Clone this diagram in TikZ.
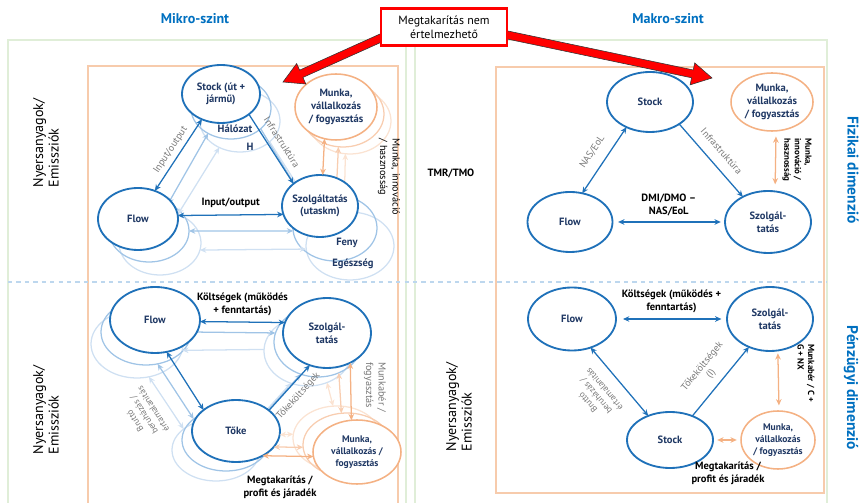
\documentclass[tikz,border=0pt]{standalone}
\usepackage{fontspec}
\setmainfont{PT Sans}
\usetikzlibrary{shapes.geometric,arrows.meta,calc}

\definecolor{bleu}{RGB}{31,113,185}
\definecolor{bleua}{RGB}{160,196,230}
\definecolor{bleub}{RGB}{207,224,242}
\definecolor{marine}{RGB}{31,56,100}
\definecolor{orangem}{RGB}{244,177,131}
\definecolor{orangea}{RGB}{248,205,176}
\definecolor{orangeb}{RGB}{251,227,210}
\definecolor{cadreor}{RGB}{247,203,172}
\definecolor{cadrevert}{RGB}{224,238,216}
\definecolor{pointille}{RGB}{189,215,238}
\definecolor{titrebleu}{RGB}{0,112,192}
\definecolor{gris}{RGB}{120,120,120}

\newcommand\flecherouge[2]{%
  \coordinate (#1c) at ($(#2)!0.5cm!(#1)$);
  \filldraw[fill=red, draw=black!80, line width=0.4pt]
    ($(#1)!0.1cm!90:(#2)$) -- ($(#1c)!0.1cm!90:(#2)$) -- ($(#1c)!0.28cm!90:(#2)$)
    -- (#2) -- ($(#1c)!0.28cm!-90:(#2)$) -- ($(#1c)!0.1cm!-90:(#2)$)
    -- ($(#1)!0.1cm!-90:(#2)$) -- cycle;}

\begin{document}
\begin{tikzpicture}[x=0.025cm, y=-0.025cm]
\tikzset{taille/.style 2 args={minimum width=#1*0.025cm, minimum height=#2*0.025cm},
  ovale/.style={ellipse, draw=bleu, fill=white, line width=1.3pt, inner sep=0pt, outer sep=0pt},
  ovaleor/.style={ovale, draw=orangem, line width=1.1pt},
  ombrea/.style={ellipse, draw=bleua, line width=0.9pt, inner sep=0pt, outer sep=0pt},
  ombreb/.style={ombrea, draw=bleub},
  ombreora/.style={ombrea, draw=orangea},
  ombreorb/.style={ombrea, draw=orangeb},
  nom/.style={font=\fontsize{7.5}{9}\selectfont\bfseries, text=marine, align=center, inner sep=0pt},
  nomp/.style={nom, font=\fontsize{6.8}{8.5}\selectfont\bfseries},
  etiq/.style={font=\fontsize{7}{8}\selectfont, text=gris, inner sep=1pt, align=center},
  noir/.style={font=\fontsize{7.5}{9}\selectfont\bfseries, text=black, align=center, inner sep=1pt},
  noirp/.style={font=\fontsize{6.3}{7.5}\selectfont\bfseries, text=black, align=left, inner sep=0pt},
  titre/.style={font=\fontsize{10}{12}\selectfont\bfseries, text=titrebleu},
  cote/.style={font=\fontsize{10}{11}\selectfont, align=left, rotate=90},
  fl/.style={line width=0.9pt, -{Stealth[length=4.5pt,width=4pt]}},
  dfl/.style={line width=0.9pt, {Stealth[length=4.5pt,width=4pt]}-{Stealth[length=4.5pt,width=4pt]}}}
\useasboundingbox (0,0) rectangle (861,503);

\draw[cadrevert, line width=1pt] (8,503) -- (8,40) -- (406,40) -- (406,503);
\draw[cadrevert, line width=1pt] (415,503) -- (415,40) -- (827,40) -- (827,503);
\draw[cadreor, line width=1.3pt] (88,503) -- (88,66) -- (398,66) -- (398,503);
\draw[cadreor, line width=1.3pt] (496,67) rectangle (824,493);
\draw[pointille, line width=0.9pt, dashed] (8,282) -- (827,282);

\node[titre] (mikro) at (195,19) {Mikro-szint};
\node[titre] (makro) at (668,19) {Makro-szint};
\node[cote] (nyers1) at (46,143) {Nyersanyagok/\\Emissziók};
\node[cote] (nyers2) at (46,410) {Nyersanyagok/\\Emissziók};
\node[cote] (nyers3) at (459,407) {Nyersanyagok/\\Emissziók};
\node[noir] (tmr) at (451,173) {TMR/TMO};
\node[titre, rotate=-90, font=\fontsize{11}{12}\selectfont\bfseries] (fizikai) at (853,170) {Fizikai dimenzió};
\node[titre, rotate=-90, font=\fontsize{11}{12}\selectfont\bfseries] (penzugyi) at (851,388) {Pénzügyi dimenzió};

% mikro, fizikai
\node[ombreb, taille={80}{62}] (stockA-b) at (240,121) {};
\node[ombrea, taille={80}{62}] (stockA-a) at (231,108) {};
\node[ombreb, taille={82}{64}] (flowA-b) at (160,243) {};
\node[ombrea, taille={80}{62}] (flowA-a) at (149,231) {};
\node[ombreb, taille={88}{68}] (szolgA-b) at (350,246) {};
\node[ombrea, taille={84}{66}] (szolgA-a) at (335,228) {};
\node[ombreorb, taille={82}{66}] (munkaA-b) at (350,121) {};
\node[ombreora, taille={82}{66}] (munkaA-a) at (343,114) {};
\draw[dfl, bleua] (stockA-a.228) -- (flowA-a.55);
\draw[dfl, bleub] (stockA-b.232) -- (flowA-b.58);
\draw[fl, bleua] (stockA-a.325) -- (szolgA-a.140);
\draw[fl, bleub] (stockA-b.325) -- (szolgA-b.140);
\draw[dfl, bleua] (flowA-a.0) -- (szolgA-a.184);
\draw[dfl, bleub] (flowA-b.350) -- (szolgA-b.184);
\draw[fl, orangea] (szolgA-a.88) -- (munkaA-a.262);
\draw[fl, orangeb] (szolgA-b.100) -- (munkaA-b.262);
\node[nom] (halozat) at (235,129) {Hálózat};
\node[nom] (hh) at (250,147) {H};
\node[nom] (feny) at (347,243) {Feny};
\node[nom] (egeszseg) at (353,264) {Egészség};
\node[ovale, taille={78}{58}, label={[nom]center:{Stock (út +\\jármű)}}] (stockA) at (221,94) {};
\node[ovale, taille={80}{62}, label={[nom]center:Flow}] (flowA) at (138,219) {};
\node[ovale, taille={76}{62}, label={[nom]center:{Szolgáltatás\\(utaskm)}}] (szolgA) at (320,206) {};
\node[ovaleor, taille={82}{66}, label={[nom]center:{Munka,\\vállalkozás\\/ fogyasztás}}] (munkaA) at (336,107) {};
\draw[dfl, bleu] (stockA.233) -- node[etiq, midway, sloped, above=2pt] (io1) {Input/output} (flowA.59);
\draw[fl, bleu] (stockA.324) -- node[etiq, midway, sloped, above=5pt] (infra1) {Infrastruktúra} (szolgA.140);
\draw[dfl, bleu] (flowA.5) -- node[noir, midway, above=4pt] (io2) {Input/output} (szolgA.193);
\draw[dfl, orangem] (munkaA.250) -- (szolgA.85);
\node[noirp, rotate=-90, font=\fontsize{7.3}{9}\selectfont] (innov1) at (389,177) {Munka, innováció\\/ hasznosság};

% mikro, penzugyi
\node[ombreb, taille={92}{68}] (flowB-b) at (137,344) {};
\node[ombrea, taille={90}{66}] (flowB-a) at (146,332) {};
\node[ombreb, taille={88}{70}] (szolgB-b) at (308,351) {};
\node[ombrea, taille={88}{70}] (szolgB-a) at (318,342) {};
\node[ombreb, taille={88}{62}] (tokeB-b) at (216,450) {};
\node[ombrea, taille={88}{62}] (tokeB-a) at (226,440) {};
\node[ombreorb, taille={88}{64}] (munkaB-b) at (337,438) {};
\node[ombreora, taille={88}{64}] (munkaB-a) at (347,445) {};
\draw[fl, bleua] (flowB-a.0) -- (szolgB-a.168);
\draw[fl, bleub] (szolgB-b.178) -- (flowB-b.352);
\draw[dfl, bleua] (flowB-a.290) -- (tokeB-a.147);
\draw[dfl, bleub] (flowB-b.290) -- (tokeB-b.147);
\draw[fl, bleua] (tokeB-a.32) -- (szolgB-a.242);
\draw[fl, bleub] (tokeB-b.32) -- (szolgB-b.242);
\draw[dfl, orangea] (szolgB-a.304) -- (munkaB-a.100);
\draw[dfl, orangeb] (szolgB-b.301) -- (munkaB-b.97);
\node[ovale, taille={90}{66}, label={[nom]center:Flow}] (flowB) at (155,320) {};
\node[ovale, taille={88}{70}, label={[nom]center:{Szolgál-\\tatás}}] (szolgB) at (327,333) {};
\node[ovale, taille={88}{62}, label={[nom]center:Tőke}] (tokeB) at (236,431) {};
\node[ovaleor, taille={88}{64}, label={[nomp]center:{Munka,\\vállalkozás /\\fogyasztás}}] (munkaB) at (357,452) {};
\draw[dfl, bleu] (flowB.358) -- node[noir, midway, above=3pt] (kolts1) {Költségek (működés\\+ fenntartás)} (szolgB.166);
\draw[dfl, bleu] (flowB.290) -- (tokeB.147);
\draw[fl, bleu] (tokeB.32) -- node[etiq, midway, sloped, below=4pt] (toke1) {Tőkeköltségek} (szolgB.242);
\draw[dfl, orangem] (szolgB.308) -- (munkaB.100);
\draw[dfl, orangem] (tokeB.317) -- (munkaB.186);
\draw[dfl, orangea] (tokeB.337) -- (munkaB-a.183);
\draw[dfl, orangeb] (tokeB.355) -- (munkaB-b.175);
\node[etiq, rotate=122, font=\fontsize{6.3}{7.6}\selectfont] (brutto1) at (144,415) {Bruttó\\beruházás /\\értamalanitás};
\node[etiq, rotate=-90, font=\fontsize{7.3}{9}\selectfont, align=left] (mber1) at (375,387) {Munkabér /\\fogyasztás};
\node[noir] (megt1) at (280,487) {Megtakarítás /\\profit és járadék};

% makro, fizikai
\node[ovale, taille={86}{60}, label={[nom]center:Stock}] (stockC) at (650,102) {};
\node[ovaleor, taille={82}{58}, label={[nom]center:{Munka,\\vállalkozás\\/ fogyasztás}}] (munkaC) at (772,102) {};
\node[ovale, taille={85}{60}, label={[nom]center:Flow}] (flowC) at (570,222) {};
\node[ovale, taille={86}{62}, label={[nom]center:{Szolgál-\\tatás}}] (szolgC) at (768,222) {};
\draw[dfl, bleu] (stockC.227) -- node[etiq, midway, sloped, above=6pt] (nas1) {NAS/EoL} (flowC.67);
\draw[fl, bleu] (stockC.323) -- node[etiq, midway, sloped, above=6pt] (infra2) {Infrastruktúra} (szolgC.135);
\draw[dfl, bleu, shorten <=4pt, shorten >=3pt] (flowC.east) -- node[noir, midway, above=3pt] (dmi) {DMI/DMO –\\NAS/EoL} (szolgC.west);
\draw[dfl, orangem, shorten <=4pt, shorten >=5pt] (munkaC.278) -- (szolgC.77);
\node[noirp, rotate=-90] (innov2) at (797,160) {Munka,\\innováció /\\hasznosság};

% makro, penzugyi
\node[ovale, taille={88}{63}, label={[nom]center:Flow}] (flowD) at (572,319) {};
\node[ovale, taille={86}{64}, label={[nom]center:{Szolgál-\\tatás}}] (szolgD) at (770,319) {};
\node[ovale, taille={86}{56}, label={[nom]center:Stock}] (stockD) at (670,440) {};
\node[ovaleor, taille={74}{58}, label={[nomp]center:{Munka,\\vállalkozás\\/ fogyasztás}}] (munkaD) at (778,440) {};
\draw[dfl, bleu, shorten <=5pt, shorten >=4pt] (flowD.east) -- node[noir, midway, above=3pt] (kolts2) {Költségek (működés +\\fenntartás)} (szolgD.west);
\draw[dfl, bleu] (flowD.303) -- (stockD.132);
\draw[fl, bleu] (stockD.47) -- node[etiq, midway, sloped, above=4pt] (toke2) {Tőkeköltségek\\(I)} (szolgD.233);
\draw[dfl, orangem, shorten <=2pt, shorten >=4pt] (szolgD.284) -- (munkaD.88);
\draw[dfl, orangem, shorten <=3pt, shorten >=3pt] (stockD.east) -- (munkaD.west);
\node[etiq, rotate=130, font=\fontsize{6.3}{7.6}\selectfont] (brutto2) at (596,396) {Bruttó\\beruházás /\\értamalanitás};
\node[noirp, rotate=-90] (mber2) at (806,373) {Munkabér / C +\\G + NX};
\node[noir] (megt2) at (728,473) {Megtakarítás /\\profit és járadék};

% megtakaritas
\coordinate (fgq) at (392,33);
\coordinate (fgp) at (283,82);
\coordinate (fdq) at (498,33);
\coordinate (fdp) at (712,78);
\flecherouge{fgq}{fgp}
\flecherouge{fdq}{fdp}
\node[draw=red, line width=1.8pt, fill=white, taille={126}{37}, align=center, inner sep=1pt, font=\fontsize{8.5}{10}\selectfont] (megtbox) at (444,27) {Megtakarítás nem\\értelmezhető};
\end{tikzpicture}
\end{document}
